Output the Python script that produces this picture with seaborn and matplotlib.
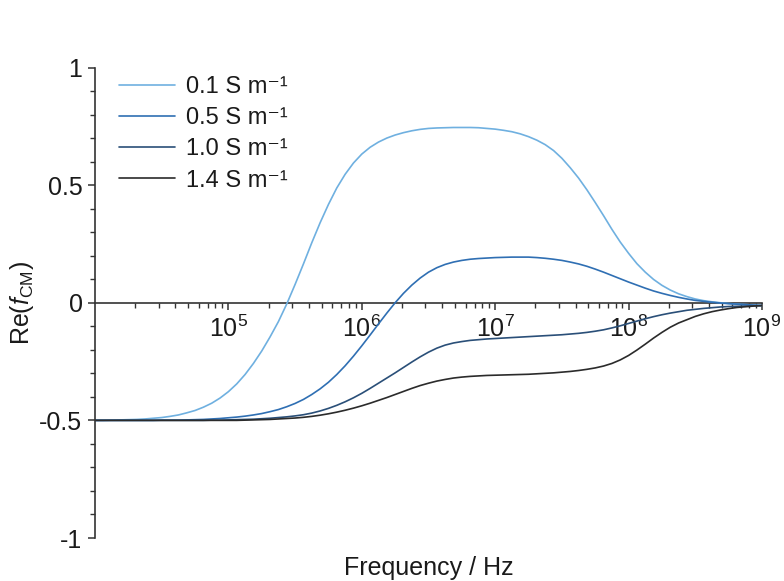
import numpy as np
import pandas as pd
import matplotlib
matplotlib.use("Agg")
import matplotlib.pyplot as plt
import seaborn as sns
from matplotlib.ticker import FixedLocator, LogLocator, MultipleLocator, NullFormatter, FuncFormatter

# ---- data (log10 of frequency in Hz) ----
log_freq = [4.0, 4.0625, 4.125, 4.1875, 4.25, 4.3125, 4.375, 4.4375, 4.5, 4.5625,
            4.625, 4.6875, 4.75, 4.8125, 4.875, 4.9375, 5.0, 5.0625, 5.125, 5.1875,
            5.25, 5.3125, 5.375, 5.4375, 5.5, 5.5625, 5.625, 5.6875, 5.75, 5.8125,
            5.875, 5.9375, 6.0, 6.0625, 6.125, 6.1875, 6.25, 6.3125, 6.375, 6.4375,
            6.5, 6.5625, 6.625, 6.6875, 6.75, 6.8125, 6.875, 6.9375, 7.0, 7.0625,
            7.125, 7.1875, 7.25, 7.3125, 7.375, 7.4375, 7.5, 7.5625, 7.625, 7.6875,
            7.75, 7.8125, 7.875, 7.9375, 8.0, 8.0625, 8.125, 8.1875, 8.25, 8.3125,
            8.375, 8.4375, 8.5, 8.5625, 8.625, 8.6875, 8.75, 8.8125, 8.875, 8.9375, 9.0]

re_fcm_01 = [-0.500, -0.500, -0.499, -0.498, -0.497, -0.496, -0.494, -0.491, -0.488, -0.483,
             -0.477, -0.468, -0.458, -0.444, -0.427, -0.405, -0.378, -0.345, -0.305, -0.258,
             -0.205, -0.145, -0.080, -0.005, 0.078, 0.165, 0.255, 0.340, 0.418, 0.488,
             0.546, 0.594, 0.632, 0.661, 0.683, 0.700, 0.713, 0.723, 0.731, 0.737,
             0.741, 0.743, 0.744, 0.745, 0.745, 0.745, 0.744, 0.741, 0.738, 0.733,
             0.727, 0.718, 0.706, 0.691, 0.672, 0.647, 0.614, 0.574, 0.530, 0.480,
             0.426, 0.370, 0.312, 0.258, 0.210, 0.166, 0.130, 0.099, 0.074, 0.054,
             0.038, 0.026, 0.016, 0.009, 0.004, 0.000, -0.003, -0.006, -0.008, -0.010, -0.012]

re_fcm_05 = [-0.500, -0.500, -0.500, -0.500, -0.500, -0.500, -0.500, -0.500, -0.499, -0.499,
             -0.499, -0.498, -0.497, -0.496, -0.494, -0.492, -0.489, -0.486, -0.482, -0.477,
             -0.471, -0.463, -0.454, -0.442, -0.428, -0.411, -0.390, -0.366, -0.338, -0.305,
             -0.268, -0.227, -0.183, -0.137, -0.090, -0.044, 0.000, 0.040, 0.075, 0.105,
             0.130, 0.149, 0.163, 0.173, 0.180, 0.185, 0.188, 0.190, 0.192, 0.193,
             0.194, 0.194, 0.194, 0.192, 0.189, 0.185, 0.180, 0.173, 0.165, 0.155,
             0.143, 0.130, 0.116, 0.102, 0.088, 0.075, 0.062, 0.050, 0.040, 0.031,
             0.023, 0.016, 0.010, 0.006, 0.002, -0.001, -0.004, -0.006, -0.008, -0.010, -0.012]

re_fcm_10 = [-0.500, -0.500, -0.500, -0.500, -0.500, -0.500, -0.500, -0.500, -0.500, -0.500,
             -0.500, -0.500, -0.500, -0.500, -0.499, -0.499, -0.498, -0.497, -0.496, -0.495,
             -0.493, -0.491, -0.488, -0.485, -0.481, -0.476, -0.469, -0.460, -0.449, -0.436,
             -0.421, -0.404, -0.385, -0.364, -0.342, -0.320, -0.298, -0.275, -0.252, -0.230,
             -0.210, -0.193, -0.180, -0.171, -0.165, -0.160, -0.157, -0.154, -0.152, -0.150,
             -0.148, -0.146, -0.144, -0.142, -0.140, -0.138, -0.136, -0.133, -0.130, -0.126,
             -0.121, -0.115, -0.107, -0.098, -0.088, -0.078, -0.068, -0.059, -0.051, -0.044,
             -0.038, -0.032, -0.028, -0.024, -0.021, -0.018, -0.016, -0.015, -0.014, -0.013, -0.012]

re_fcm_14 = [-0.500, -0.500, -0.500, -0.500, -0.500, -0.500, -0.500, -0.500, -0.500, -0.500,
             -0.500, -0.500, -0.500, -0.500, -0.500, -0.500, -0.500, -0.500, -0.499, -0.498,
             -0.497, -0.496, -0.494, -0.492, -0.490, -0.487, -0.483, -0.478, -0.472, -0.465,
             -0.457, -0.448, -0.438, -0.427, -0.415, -0.403, -0.390, -0.377, -0.364, -0.352,
             -0.342, -0.333, -0.326, -0.320, -0.316, -0.313, -0.311, -0.309, -0.308, -0.307,
             -0.306, -0.305, -0.304, -0.302, -0.300, -0.298, -0.295, -0.292, -0.288, -0.283,
             -0.277, -0.269, -0.258, -0.243, -0.224, -0.201, -0.176, -0.150, -0.126, -0.104,
             -0.086, -0.072, -0.058, -0.047, -0.038, -0.031, -0.025, -0.020, -0.017, -0.014, -0.012]

series_labels = ["0.1 S m\u207b\u00b9", "0.5 S m\u207b\u00b9", "1.0 S m\u207b\u00b9", "1.4 S m\u207b\u00b9"]
series_colors = ["#6fb0e0", "#2f6fb3", "#2a4f78", "#2b2b2b"]

x_major = [1e5, 1e6, 1e7, 1e8, 1e9]
y_major = [-1, -0.5, 0, 0.5, 1]
y_major_labels = ["-1", "-0.5", "0", "0.5", "1"]

# ---- build long-form table ----
freq = [10 ** v for v in log_freq]
frames = []
for lab, vals in zip(series_labels, [re_fcm_01, re_fcm_05, re_fcm_10, re_fcm_14]):
    frames.append(pd.DataFrame({"freq": freq, "re": vals, "sigma": lab}))
df = pd.concat(frames, ignore_index=True)

# ---- style ----
sns.set_style("ticks")
plt.rcParams.update({
    "font.family": ["Liberation Sans", "DejaVu Sans"],
    "mathtext.fontset": "custom",
    "mathtext.rm": "Liberation Sans",
    "mathtext.it": "Liberation Sans:italic",
    "mathtext.bf": "Liberation Sans:bold",
    "axes.unicode_minus": False,
})

fig = plt.figure(figsize=(7.84, 5.81), dpi=100)
ax = fig.add_axes([95 / 784, (581 - 538) / 581, 667 / 784, 470.5 / 581])

sns.lineplot(data=df, x="freq", y="re", hue="sigma", hue_order=series_labels,
             palette=series_colors, linewidth=1.2, sort=False, estimator=None, ax=ax)
for ln in ax.get_lines():
    ln.set_solid_joinstyle("round")

ax.set_xscale("log")
ax.set_xlim(1e4, 1e9)
ax.set_ylim(-1, 1)

spine_col = "#333333"
for s in ["top", "right"]:
    ax.spines[s].set_visible(False)
ax.spines["bottom"].set_position(("data", 0))
for s in ["left", "bottom"]:
    ax.spines[s].set_color(spine_col)
    ax.spines[s].set_linewidth(1.2)
ax.spines["bottom"].set_zorder(1)

ax.xaxis.set_major_locator(FixedLocator(x_major))
ax.xaxis.set_major_formatter(FuncFormatter(lambda v, p: r"$10^{%d}$" % round(np.log10(v))))
ax.xaxis.set_minor_locator(LogLocator(base=10, subs=[2, 3, 4, 5, 6, 7, 8, 9], numticks=20))
ax.xaxis.set_minor_formatter(NullFormatter())

ax.yaxis.set_major_locator(FixedLocator(y_major))
ax.set_yticklabels(y_major_labels)
ax.yaxis.set_minor_locator(MultipleLocator(0.1))

ax.tick_params(axis="both", which="major", direction="out", length=5, width=1.1,
               color=spine_col, labelsize=18, labelcolor="#1a1a1a", pad=4)
ax.tick_params(axis="both", which="minor", direction="out", length=3.5, width=1.0,
               color=spine_col)

ax.set_xlabel("Frequency / Hz", fontsize=18, color="#1a1a1a")
ax.xaxis.set_label_coords(0.5, -0.038)
ax.set_ylabel(r"Re($f_{\mathrm{CM}}$)", fontsize=18, color="#1a1a1a")
ax.yaxis.set_label_coords(-0.088, 0.5)

leg = ax.legend(loc="upper left", bbox_to_anchor=(0.036, 0.982), frameon=False,
                fontsize=17, handlelength=2.37, handletextpad=0.45, labelspacing=0.39,
                borderpad=0, borderaxespad=0, title=None)
for t in leg.get_texts():
    t.set_color("#1a1a1a")

fig.savefig("out.png", dpi=100)
